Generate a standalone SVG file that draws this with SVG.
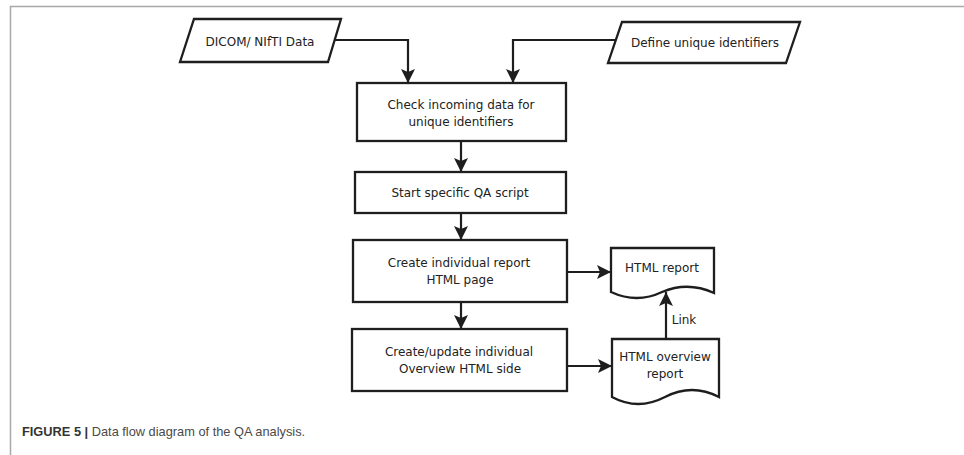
<svg xmlns="http://www.w3.org/2000/svg" width="964" height="455" viewBox="0 0 964 455">
<style>
.shape{fill:#fff;stroke:#1e1e1e;stroke-width:2.3;stroke-linejoin:miter}
.lbl{font-family:"DejaVu Sans",Verdana,sans-serif;font-size:12px;fill:#222;text-anchor:middle}
.conn{fill:none;stroke:#1e1e1e;stroke-width:2.2}
.frame{fill:none;stroke:#a8a8a8;stroke-width:1.5}
.cap{font-family:"Liberation Sans",Arial,sans-serif;font-size:12.8px;fill:#4a4a4a}
</style>
<defs>
<marker id="arr" markerUnits="userSpaceOnUse" markerWidth="15" markerHeight="15" viewBox="0 0 15 15" refX="14" refY="7.5" orient="auto">
<path d="M0,0.5 L14,7.5 L0,14.5 L3,7.5 Z" fill="#1e1e1e"/>
</marker>
</defs>
<path class="frame" d="M10.5,455 V6.5 H964"/>
<g id="dicom">
<path class="shape" d="M194,19 H341 L328,62 H180 Z"/>
<text class="lbl" x="260" y="45.5">DICOM/ NIfTI Data</text>
</g>
<g id="define">
<path class="shape" d="M622,22 H800 L786,63 H608 Z"/>
<text class="lbl" x="705" y="47">Define unique identifiers</text>
</g>
<g id="check">
<rect class="shape" x="357" y="83" width="209" height="58"/>
<text class="lbl" x="461" y="108.5">Check incoming data for</text>
<text class="lbl" x="461" y="125.5">unique identifiers</text>
</g>
<g id="start">
<rect class="shape" x="355" y="172" width="211" height="41"/>
<text class="lbl" x="460" y="197">Start specific QA script</text>
</g>
<g id="create">
<rect class="shape" x="353" y="240" width="214" height="62"/>
<text class="lbl" x="459" y="267">Create individual report</text>
<text class="lbl" x="460" y="284">HTML page</text>
</g>
<g id="update">
<rect class="shape" x="352" y="329" width="215" height="62"/>
<text class="lbl" x="459" y="356">Create/update individual</text>
<text class="lbl" x="460" y="373">Overview HTML side</text>
</g>
<g id="htmlreport">
<path class="shape" d="M611,248 H714 V293 Q688,281 662,292 Q637,304 611,292 Z"/>
<text class="lbl" x="662" y="272">HTML report</text>
</g>
<g id="overview">
<path class="shape" d="M612,339 H719 V397 Q692,383 665,397 Q638,411 612,397 Z"/>
<text class="lbl" x="665" y="361">HTML overview</text>
<text class="lbl" x="665" y="378">report</text>
</g>
<g id="connectors">
<path class="conn" d="M334,40 H408 V83" marker-end="url(#arr)"/>
<path class="conn" d="M615,40 H513 V83" marker-end="url(#arr)"/>
<path class="conn" d="M461,141 V172" marker-end="url(#arr)"/>
<path class="conn" d="M461,213 V240" marker-end="url(#arr)"/>
<path class="conn" d="M461,302 V329" marker-end="url(#arr)"/>
<path class="conn" d="M567,272 H611" marker-end="url(#arr)"/>
<path class="conn" d="M567,366 H612" marker-end="url(#arr)"/>
<path class="conn" d="M666,339 V292" marker-end="url(#arr)"/>
<text class="lbl" x="684" y="324">Link</text>
</g>
<text class="cap" x="22" y="436"><tspan font-weight="bold" fill="#333">FIGURE 5 |</tspan> Data flow diagram of the QA analysis.</text>
</svg>
